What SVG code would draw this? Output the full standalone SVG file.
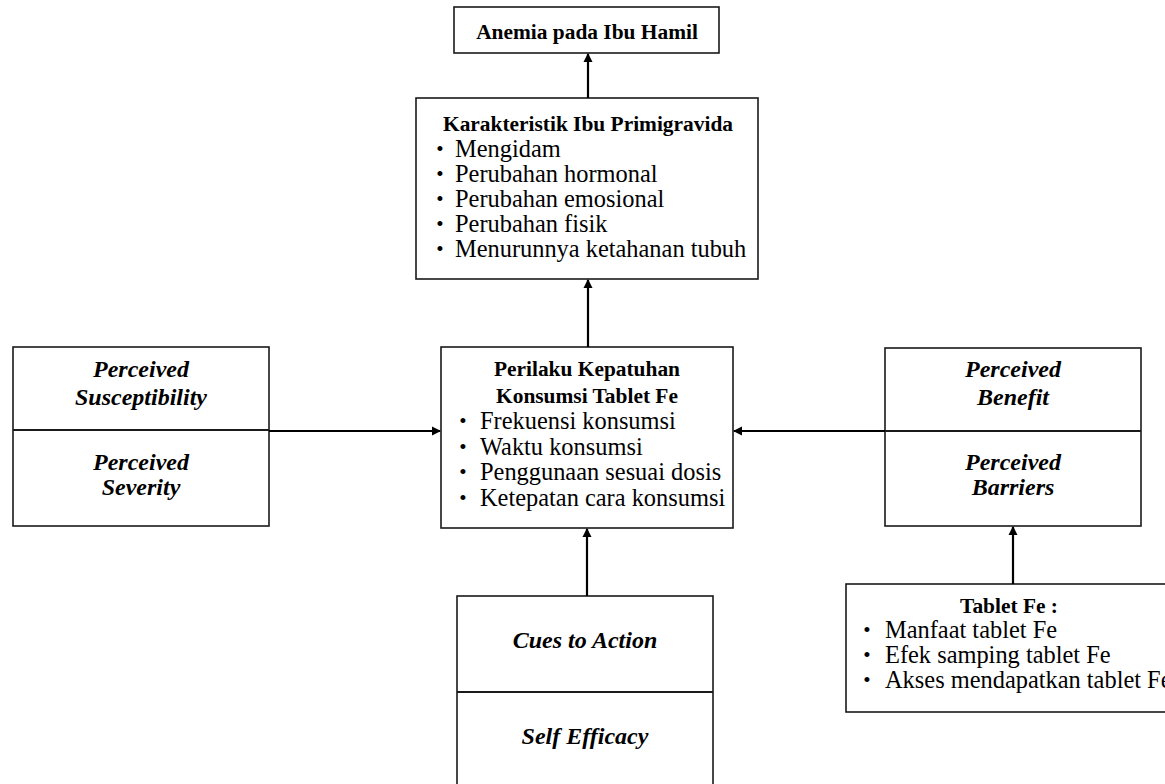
<svg xmlns="http://www.w3.org/2000/svg" width="1165" height="784" viewBox="0 0 1165 784">
<style>
.box{fill:#fff;stroke:#1a1a1a;stroke-width:1.6}
.div{stroke:#1a1a1a;stroke-width:2;fill:none}
.con{stroke:#000;stroke-width:2.2;fill:none;marker-end:url(#ah)}
text{font-family:"Liberation Serif","Times New Roman",serif;fill:#000}
.b{font-weight:bold;font-size:21.4px;text-anchor:middle}
.r{font-size:24.4px}
.bi{font-weight:bold;font-style:italic;font-size:24px;text-anchor:middle}
.bul{font-size:21px;text-anchor:middle}
</style>
<defs>
<marker id="ah" markerWidth="10" markerHeight="10" refX="8" refY="5" orient="auto" markerUnits="userSpaceOnUse">
<path d="M0,0.5 L9,5 L0,9.5 Z" fill="#000"/>
</marker>
</defs>
<rect width="1165" height="784" fill="#fff"/>
<g id="anemia">
<rect class="box" x="454" y="7" width="265" height="46"/>
<text class="b" x="587" y="39">Anemia pada Ibu Hamil</text>
</g>
<g id="karakteristik">
<rect class="box" x="416" y="98" width="342" height="181"/>
<text class="b" x="588" y="131">Karakteristik Ibu Primigravida</text>
<text class="bul" x="440" y="156">•</text><text class="r" x="455" y="157">Mengidam</text>
<text class="bul" x="440" y="181">•</text><text class="r" x="455" y="182">Perubahan hormonal</text>
<text class="bul" x="440" y="206">•</text><text class="r" x="455" y="207">Perubahan emosional</text>
<text class="bul" x="440" y="231">•</text><text class="r" x="455" y="232">Perubahan fisik</text>
<text class="bul" x="440" y="256">•</text><text class="r" x="455" y="257">Menurunnya ketahanan tubuh</text>
</g>
<g id="perilaku">
<rect class="box" x="441" y="347" width="292" height="181"/>
<text class="b" x="587" y="376">Perilaku Kepatuhan</text>
<text class="b" x="587" y="403">Konsumsi Tablet Fe</text>
<text class="bul" x="463" y="428">•</text><text class="r" x="480" y="429">Frekuensi konsumsi</text>
<text class="bul" x="463" y="454">•</text><text class="r" x="480" y="455">Waktu konsumsi</text>
<text class="bul" x="463" y="479">•</text><text class="r" x="480" y="480">Penggunaan sesuai dosis</text>
<text class="bul" x="463" y="505">•</text><text class="r" x="480" y="506">Ketepatan cara konsumsi</text>
</g>
<g id="perceived-left">
<rect class="box" x="13" y="347" width="256" height="179"/>
<line class="div" x1="13" y1="430" x2="269" y2="430"/>
<text class="bi" x="141" y="377">Perceived</text>
<text class="bi" x="141" y="405">Susceptibility</text>
<text class="bi" x="141" y="470">Perceived</text>
<text class="bi" x="141" y="495">Severity</text>
</g>
<g id="perceived-right">
<rect class="box" x="885" y="348" width="256" height="178"/>
<line class="div" x1="885" y1="431" x2="1141" y2="431"/>
<text class="bi" x="1013" y="377">Perceived</text>
<text class="bi" x="1013" y="405">Benefit</text>
<text class="bi" x="1013" y="470">Perceived</text>
<text class="bi" x="1013" y="495">Barriers</text>
</g>
<g id="cues">
<rect class="box" x="457" y="596" width="256" height="210"/>
<line class="div" x1="457" y1="692" x2="713" y2="692"/>
<text class="bi" x="585" y="648">Cues to Action</text>
<text class="bi" x="585" y="744">Self Efficacy</text>
</g>
<g id="tablet">
<rect class="box" x="846" y="584" width="340" height="128"/>
<text class="b" x="1009" y="613">Tablet Fe :</text>
<text class="bul" x="867" y="637">•</text><text class="r" x="885" y="638">Manfaat tablet Fe</text>
<text class="bul" x="867" y="662">•</text><text class="r" x="885" y="663">Efek samping tablet Fe</text>
<text class="bul" x="867" y="687">•</text><text class="r" x="885" y="688">Akses mendapatkan tablet Fe</text>
</g>
<g id="connectors">
<line class="con" x1="588" y1="98" x2="588" y2="54"/>
<line class="con" x1="588" y1="347" x2="588" y2="280"/>
<line class="con" x1="269" y1="431" x2="440" y2="431"/>
<line class="con" x1="885" y1="431" x2="734" y2="431"/>
<line class="con" x1="587" y1="596" x2="587" y2="529"/>
<line class="con" x1="1013" y1="584" x2="1013" y2="527"/>
</g>
</svg>
